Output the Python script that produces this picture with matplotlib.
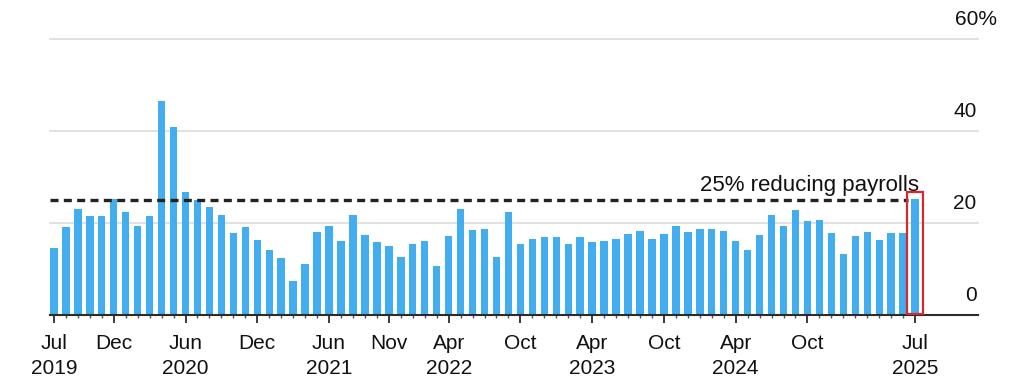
import matplotlib
matplotlib.use("Agg")
import matplotlib.pyplot as plt
import matplotlib.transforms as mtransforms
from matplotlib.patches import Rectangle
import numpy as np
import pandas as pd

plt.rcParams['font.family'] = ['Liberation Sans', 'DejaVu Sans']

# Monthly share of companies reducing payrolls, Jul 2019 - Jul 2025 (%)
months = pd.period_range('2019-07', '2025-07', freq='M')
share_reducing = [
    14.6, 19.1, 23.0, 21.5, 21.4, 25.2, 22.4, 19.3, 21.4, 46.5, 40.8, 26.6,
    24.9, 23.5, 21.8, 17.8, 19.0, 16.3, 14.0, 12.4, 7.4, 11.0, 18.1, 19.3,
    16.1, 21.6, 17.4, 15.9, 15.0, 12.5, 15.4, 16.1, 10.6, 17.2, 22.9, 18.5,
    18.7, 12.5, 22.4, 15.3, 16.6, 16.9, 17.0, 15.3, 17.0, 15.8, 16.0, 16.4,
    17.5, 18.2, 16.4, 17.5, 19.4, 18.1, 18.6, 18.7, 18.3, 16.0, 14.0, 17.3,
    21.6, 19.3, 22.8, 20.5, 20.6, 17.8, 13.2, 17.2, 18.1, 16.2, 17.8, 17.7,
    25.1,
]

tick_months = ['2019-07', '2019-12', '2020-06', '2020-12', '2021-06', '2021-11',
               '2022-04', '2022-10', '2023-04', '2023-10', '2024-04', '2024-10',
               '2025-07']
tick_labels = ['Jul\n2019', 'Dec', 'Jun\n2020', 'Dec', 'Jun\n2021', 'Nov',
               'Apr\n2022', 'Oct', 'Apr\n2023', 'Oct', 'Apr\n2024', 'Oct',
               'Jul\n2025']

y_ticks = [0, 20, 40, 60]
y_labels = ['0', '20', '40', '60%']
threshold = 25
threshold_label = '25% reducing payrolls'

BAR_COLOR = '#42aef0'
DARK = '#2b2b2b'

fig = plt.figure(figsize=(10.24, 3.84), dpi=100)
ax = fig.add_axes([50 / 1024, 1 - 315 / 384, 928 / 1024, 276.5 / 384])

x = np.arange(len(months))
ax.bar(x, share_reducing, width=0.62, color=BAR_COLOR, zorder=3)

ax.set_xlim(-0.33, 77.26)
ax.set_ylim(0, 60)

# gridlines
for v in y_ticks[1:]:
    ax.axhline(v, color='#dcdcdc', lw=1.2, zorder=1, clip_on=False)

# spines
for s in ['top', 'right', 'left']:
    ax.spines[s].set_visible(False)
ax.spines['bottom'].set_color(DARK)
ax.spines['bottom'].set_linewidth(1.5)
ax.spines['bottom'].set_zorder(4)

# x ticks
month_str = [str(m) for m in months]
tick_pos = [month_str.index(m) for m in tick_months]
ax.set_xticks(tick_pos)
ax.set_xticklabels(tick_labels, fontsize=15, color='#111111', linespacing=1.4)
ax.set_xticks(x, minor=True)
ax.tick_params(axis='x', which='major', length=6, width=1.3, color=DARK, pad=8)
ax.tick_params(axis='x', which='minor', length=2.5, width=1.0, color='#555555')
ax.set_yticks([])

# y labels on the right, above gridlines
label_trans = mtransforms.blended_transform_factory(ax.transAxes, ax.transData)
for v, lab in zip(y_ticks, y_labels):
    off = mtransforms.offset_copy(label_trans, fig=fig, x=(14 if lab.endswith('%') else -1),
                                  y=10, units='points')
    ax.text(1.0, v, lab, transform=off, ha='right', va='baseline',
            fontsize=15, color='#111111', clip_on=False)

# threshold line and label
last = len(months) - 1
ax.plot([-0.33, last - 0.6], [threshold, threshold], color='#222222', lw=2.4,
        ls=(0, (2.4, 1.6)), zorder=5)
ax.text(last + 0.3, threshold + 1.8, threshold_label, ha='right', va='baseline',
        fontsize=16, color='#111111', zorder=6)

# highlight latest month
ax.add_patch(Rectangle((last - 0.68, 0.2), 1.36, 26.4, fill=False,
                       edgecolor='#d8282f', lw=1.6, zorder=6, clip_on=False))

fig.savefig('out.png', dpi=100)
